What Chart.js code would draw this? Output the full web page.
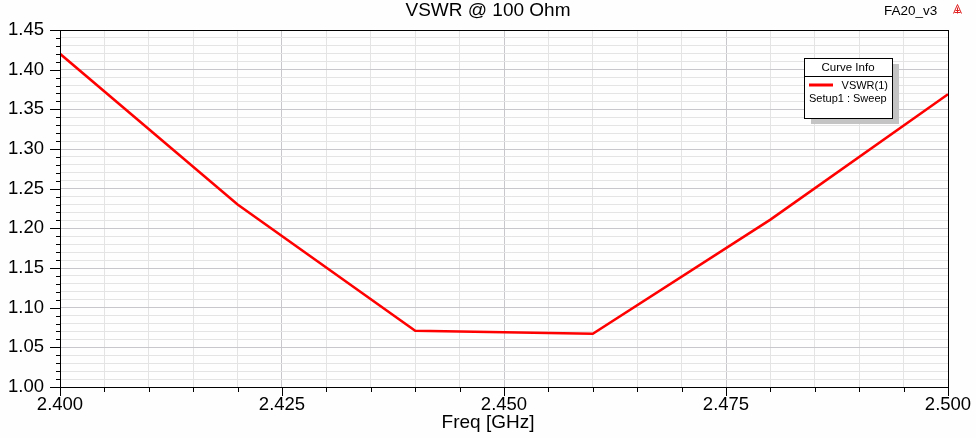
<!DOCTYPE html>
<html>
<head>
<meta charset="utf-8">
<script src="https://cdn.jsdelivr.net/npm/chart.js@4.4.1/dist/chart.umd.min.js"></script>
<style>
  html, body { margin: 0; padding: 0; background: #fdfefd; }
  #wrap { width: 976px; height: 438px; }
</style>
</head>
<body>
<div id="wrap"><canvas id="myChart" width="976" height="438"></canvas></div>
<script>
// sweep points
const freqGHz = [2.400, 2.420, 2.440, 2.445, 2.450, 2.455, 2.460, 2.480, 2.500];
const vswr    = [1.420, 1.230, 1.071, 1.070, 1.069, 1.068, 1.067, 1.211, 1.369];

const titleText = "VSWR @ 100 Ohm";
const xLabel = "Freq [GHz]";
const projectName = "FA20_v3";
const legendHeader = "Curve Info";
const legendName = "VSWR(1)";
const legendSetup = "Setup1 : Sweep";

const FONT = "'Liberation Sans', Arial, sans-serif";

const isMajorX = v => Math.round(v * 1000) % 25 === 0;
const isMajorY = v => Math.round(v * 100) % 5 === 0;

// frame, ticks, title, legend box, logo
const hfssDecor = {
    id: 'hfssDecor',
    afterDraw(chart) {
        const { ctx, chartArea: a, scales: { x, y } } = chart;
        ctx.save();
        ctx.strokeStyle = '#000';
        ctx.lineWidth = 1;
        ctx.strokeRect(Math.round(a.left) + 0.5, Math.round(a.top) + 0.5,
            Math.round(a.right - a.left), Math.round(a.bottom - a.top));

        ctx.beginPath();
        x.ticks.forEach(t => {
            const px = Math.round(x.getPixelForValue(t.value)) + 0.5;
            const len = isMajorX(t.value) ? 9 : 5;
            ctx.moveTo(px, a.bottom);
            ctx.lineTo(px, a.bottom + len);
        });
        y.ticks.forEach(t => {
            const py = Math.round(y.getPixelForValue(t.value)) + 0.5;
            const len = isMajorY(t.value) ? 10 : 4;
            ctx.moveTo(a.left, py);
            ctx.lineTo(a.left - len, py);
        });
        ctx.stroke();

        ctx.fillStyle = '#000';
        ctx.textAlign = 'center';
        ctx.textBaseline = 'middle';
        ctx.font = `19px ${FONT}`;
        ctx.fillText(titleText, 488, 11);
        ctx.fillText(xLabel, 488, 423);

        ctx.textAlign = 'left';
        ctx.font = `13.5px ${FONT}`;
        ctx.fillText(projectName, 884, 11);

        // small red logo
        ctx.strokeStyle = '#e02020';
        ctx.beginPath();
        ctx.moveTo(953.5, 13.5); ctx.lineTo(957.5, 4.5); ctx.lineTo(961.5, 13.5);
        ctx.moveTo(955.5, 10.5); ctx.lineTo(959.5, 10.5);
        ctx.moveTo(954.5, 12.5); ctx.lineTo(960.5, 12.5);
        ctx.moveTo(957.5, 7.5); ctx.lineTo(957.5, 13.5);
        ctx.stroke();

        // curve info box
        const bx = 804, by = 58, bw = 88, bh = 60;
        ctx.fillStyle = '#c4c4c4';
        ctx.fillRect(bx + 7, by + 6, bw, bh);
        ctx.fillStyle = '#fff';
        ctx.fillRect(bx, by, bw, bh);
        ctx.strokeStyle = '#000';
        ctx.strokeRect(bx + 0.5, by + 0.5, bw, bh);
        ctx.beginPath();
        ctx.moveTo(bx, 76.5); ctx.lineTo(bx + bw, 76.5);
        ctx.stroke();

        ctx.fillStyle = '#000';
        ctx.font = `11.5px ${FONT}`;
        ctx.textAlign = 'center';
        ctx.fillText(legendHeader, bx + bw / 2, 68);
        ctx.font = `11px ${FONT}`;
        ctx.textAlign = 'right';
        ctx.fillText(legendName, 888, 86);
        ctx.textAlign = 'left';
        ctx.fillText(legendSetup, 809, 99);
        ctx.strokeStyle = '#ff0000';
        ctx.lineWidth = 3;
        ctx.beginPath();
        ctx.moveTo(809, 85); ctx.lineTo(833, 85);
        ctx.stroke();
        ctx.restore();
    }
};

const chartConfig = {
    type: 'line',
    data: {
        datasets: [{
            label: legendName,
            data: freqGHz.map((f, i) => ({ x: f, y: vswr[i] })),
            borderColor: '#ff0000',
            borderWidth: 2.5,
            pointRadius: 0,
            tension: 0,
            fill: false,
        }],
    },
    options: {
        responsive: false,
        animation: false,
        layout: { padding: { top: 30, right: 28, left: 0, bottom: 0 } },
        plugins: { legend: { display: false }, title: { display: false }, tooltip: { enabled: false } },
        scales: {
            x: {
                type: 'linear',
                min: 2.4,
                max: 2.5,
                afterFit: s => { s.height = 51; s.paddingLeft = 0; s.paddingRight = 0; },
                border: { display: false },
                grid: {
                    drawTicks: false,
                    color: c => isMajorX(c.tick.value) ? '#c8c8cc' : '#e4e4e4',
                },
                ticks: {
                    stepSize: 0.005,
                    autoSkip: false,
                    maxRotation: 0,
                    padding: 7,
                    color: '#000',
                    font: { family: FONT, size: 18.5 },
                    callback: v => isMajorX(v) ? v.toFixed(3) : '',
                },
            },
            y: {
                min: 1.0,
                max: 1.45,
                afterFit: s => { s.width = 60; s.paddingTop = 0; s.paddingBottom = 0; },
                border: { display: false },
                grid: {
                    drawTicks: false,
                    color: c => isMajorY(c.tick.value) ? '#c8c8cc' : '#e4e4e4',
                },
                ticks: {
                    stepSize: 0.01,
                    autoSkip: false,
                    padding: 16,
                    color: '#000',
                    font: { family: FONT, size: 18.5 },
                    callback: v => isMajorY(v) ? v.toFixed(2) : '',
                },
            },
        },
    },
    plugins: [hfssDecor],
};

new Chart(document.getElementById('myChart').getContext('2d'), chartConfig);
</script>
</body>
</html>
